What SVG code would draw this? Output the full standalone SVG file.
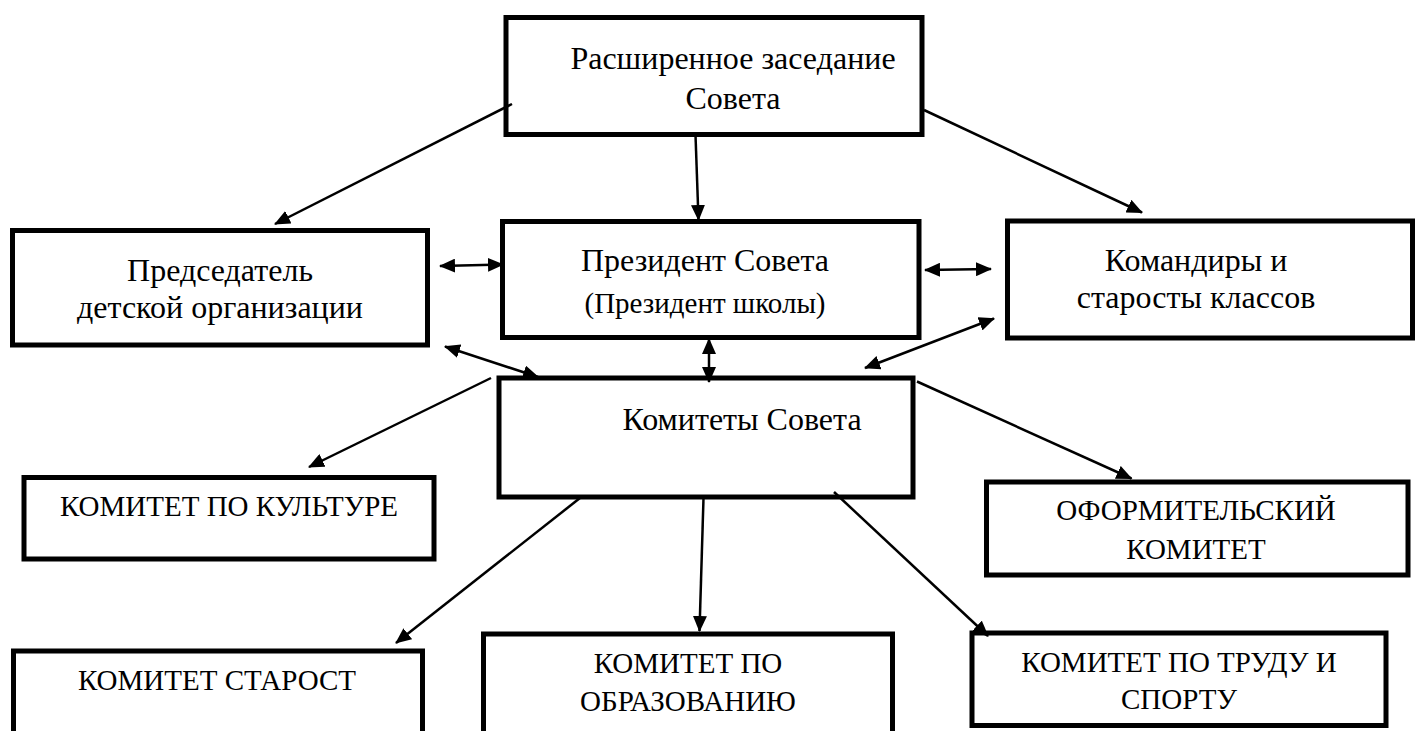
<svg xmlns="http://www.w3.org/2000/svg" width="1416" height="731" viewBox="0 0 1416 731">
<style>
.box{fill:#fff;stroke:#000;stroke-width:5}
.t{font-family:'Liberation Serif','Times New Roman','DejaVu Serif',serif;font-size:32px;text-anchor:middle;fill:#000}
.s{font-size:29px}
.c{stroke:#000;stroke-width:2.5;fill:none;marker-end:url(#ah)}
.bi{marker-start:url(#ah)}
</style>
<defs>
<marker id="ah" viewBox="0 0 16 14" refX="15" refY="7" markerWidth="16" markerHeight="14" markerUnits="userSpaceOnUse" orient="auto-start-reverse">
<path d="M0,0 L16,7 L0,14 z" fill="#000"/>
</marker>
</defs>
<rect width="1416" height="731" fill="#fff"/>
<g font-family="Liberation Serif, Times New Roman, DejaVu Serif, serif">
<g id="node-top">
<rect class="box" x="506" y="17.5" width="416" height="117"/>
<text class="t" x="733" y="69">Расширенное заседание</text>
<text class="t" x="733" y="109">Совета</text>
</g>
<g id="node-chair">
<rect class="box" x="12.5" y="230.5" width="415" height="114.5"/>
<text class="t" x="220" y="281">Председатель</text>
<text class="t" x="220" y="318">детской организации</text>
</g>
<g id="node-president">
<rect class="box" x="502.5" y="221.5" width="416.5" height="116"/>
<text class="t" x="705" y="271">Президент Совета</text>
<text class="t s" x="705" y="313">(Президент школы)</text>
</g>
<g id="node-commanders">
<rect class="box" x="1007.5" y="221" width="405" height="117"/>
<text class="t" x="1196" y="271">Командиры и</text>
<text class="t" x="1196" y="308">старосты классов</text>
</g>
<g id="node-committees">
<rect class="box" x="499" y="378" width="414" height="119"/>
<text class="t" x="742" y="430">Комитеты Совета</text>
</g>
<g id="node-culture">
<rect class="box" x="24" y="477.5" width="410" height="81.5"/>
<text class="t s" x="229" y="516">КОМИТЕТ ПО КУЛЬТУРЕ</text>
</g>
<g id="node-design">
<rect class="box" x="986.5" y="482" width="421.5" height="93"/>
<text class="t s" x="1196" y="519.5">ОФОРМИТЕЛЬСКИЙ</text>
<text class="t s" x="1196" y="558.5">КОМИТЕТ</text>
</g>
<g id="node-elders">
<rect class="box" x="13.5" y="651" width="409" height="110"/>
<text class="t s" x="217" y="690">КОМИТЕТ СТАРОСТ</text>
</g>
<g id="node-education">
<rect class="box" x="483.5" y="634" width="409" height="120"/>
<text class="t s" x="688" y="673">КОМИТЕТ ПО</text>
<text class="t s" x="688" y="711">ОБРАЗОВАНИЮ</text>
</g>
<g id="node-labour">
<rect class="box" x="972" y="633" width="414" height="92.5"/>
<text class="t s" x="1179" y="672">КОМИТЕТ ПО ТРУДУ И</text>
<text class="t s" x="1179" y="709">СПОРТУ</text>
</g>
</g>
<g id="connectors">
<line class="c" x1="512" y1="104" x2="275" y2="224"/>
<line class="c" x1="695.5" y1="135" x2="698.5" y2="220"/>
<line class="c" x1="924" y1="110" x2="1142" y2="212.5"/>
<line class="c bi" x1="440" y1="266" x2="503" y2="264.5"/>
<line class="c bi" x1="925" y1="270" x2="991" y2="269"/>
<line class="c bi" x1="709" y1="339" x2="709" y2="382"/>
<line class="c bi" x1="445" y1="346.5" x2="538" y2="377"/>
<line class="c bi" x1="994" y1="318.5" x2="865" y2="368"/>
<line class="c" x1="491" y1="378" x2="309" y2="467"/>
<line class="c" x1="580" y1="498" x2="396" y2="643"/>
<line class="c" x1="703.5" y1="498" x2="699.5" y2="631"/>
<line class="c" x1="834" y1="492" x2="988" y2="636"/>
<line class="c" x1="917" y1="381.5" x2="1131.5" y2="478.5"/>
</g>
</svg>
